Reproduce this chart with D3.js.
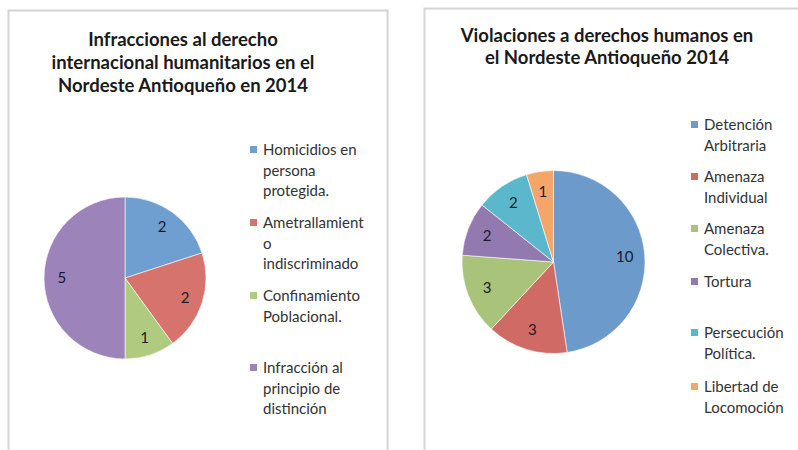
<!DOCTYPE html>
<html>
<head>
<meta charset="utf-8">
<script src="https://cdn.jsdelivr.net/npm/d3@7"></script>
<style>
  body { margin: 0; background: #fff; }
  svg { display: block; font-family: Lato, "Open Sans", sans-serif; }
</style>
</head>
<body>
<div id="chart"></div>
<script>
// data for both pies
var leftTitle = ["Infracciones al derecho", "internacional humanitarios en el", "Nordeste Antioqueño en 2014"];
var leftCategories = [
  ["Homicidios en", "persona", "protegida."],
  ["Ametrallamient", "o", "indiscriminado"],
  ["Confinamiento", "Poblacional."],
  ["Infracción al", "principio de", "distinción"]
];
var leftValues = [2, 2, 1, 5];
var leftColors = ["#6f9fd0", "#d5736c", "#b0cb7f", "#9c83ba"];

var rightTitle = ["Violaciones a derechos humanos en", "el Nordeste Antioqueño 2014"];
var rightCategories = [
  ["Detención", "Arbitraria"],
  ["Amenaza", "Individual"],
  ["Amenaza", "Colectiva."],
  ["Tortura"],
  ["Persecución", "Política."],
  ["Libertad de", "Locomoción"]
];
var rightValues = [10, 3, 3, 2, 2, 1];
var rightColors = ["#6c9bcb", "#cf6b64", "#a9c47a", "#9279b0", "#5bb8cc", "#f3a56a"];

var width = 798, height = 450;

var svg = d3.select("#chart").append("svg")
    .attr("width", width)
    .attr("height", height);

// panel frames
svg.append("rect")
    .attr("x", 8.5).attr("y", 10.5)
    .attr("width", 379).attr("height", 460)
    .attr("fill", "#fff")
    .attr("stroke", "#d4d4d4").attr("stroke-width", 2);

svg.append("rect")
    .attr("x", 424.5).attr("y", 8.5)
    .attr("width", 400).attr("height", 460)
    .attr("fill", "#fff")
    .attr("stroke", "#d4d4d4").attr("stroke-width", 2);

function drawPie(opt) {
    var g = svg.append("g");

    // title
    g.append("text")
        .attr("text-anchor", "middle")
        .style("font-size", "18.5px")
        .style("font-weight", "bold")
        .attr("fill", "#1a1a1a")
        .selectAll("tspan")
        .data(opt.title)
        .enter().append("tspan")
        .attr("x", opt.titleX)
        .attr("y", (d, i) => opt.titleY + i * opt.titleGap)
        .text(d => d);

    var pie = d3.pie().sort(null).value(d => d);
    var arcs = pie(opt.values);
    var arc = d3.arc().innerRadius(0).outerRadius(opt.r);
    var labelArc = d3.arc().innerRadius(opt.r * 0.78).outerRadius(opt.r * 0.78);

    var pg = g.append("g")
        .attr("transform", "translate(" + opt.cx + "," + opt.cy + ")");

    pg.selectAll("path")
        .data(arcs)
        .enter().append("path")
        .attr("d", arc)
        .attr("fill", (d, i) => opt.colors[i])
        .attr("stroke", "#fff")
        .attr("stroke-width", 0.6);

    pg.selectAll("text")
        .data(arcs)
        .enter().append("text")
        .attr("transform", d => "translate(" + labelArc.centroid(d) + ")")
        .attr("text-anchor", "middle")
        .attr("dy", "0.35em")
        .style("font-size", "15px")
        .attr("fill", "#1a1a2a")
        .text(d => d.data);

    // legend
    var lg = g.selectAll(".legend")
        .data(opt.categories)
        .enter().append("g")
        .attr("transform", (d, i) => "translate(" + opt.legendX + "," + opt.legendY[i] + ")");

    lg.append("rect")
        .attr("x", 0).attr("y", -4)
        .attr("width", 7).attr("height", 7)
        .attr("fill", (d, i) => opt.colors[i]);

    lg.append("text")
        .style("font-size", "15px")
        .attr("fill", "#333")
        .selectAll("tspan")
        .data(d => d)
        .enter().append("tspan")
        .attr("x", 13)
        .attr("y", (d, i) => i * 20.3)
        .attr("dy", "0.35em")
        .text(d => d);
}

drawPie({
    title: leftTitle, titleX: 183, titleY: 46, titleGap: 23,
    values: leftValues, colors: leftColors, categories: leftCategories,
    cx: 125, cy: 278, r: 81,
    legendX: 250, legendY: [150, 223, 296, 368]
});

drawPie({
    title: rightTitle, titleX: 607, titleY: 42, titleGap: 22,
    values: rightValues, colors: rightColors, categories: rightCategories,
    cx: 553.5, cy: 262, r: 91.5,
    legendX: 691, legendY: [125, 177, 229, 282, 333, 387]
});
</script>
</body>
</html>
